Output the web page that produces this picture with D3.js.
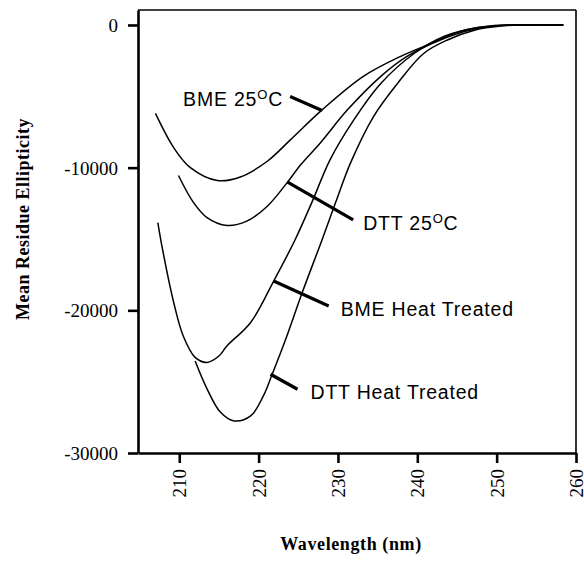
<!DOCTYPE html>
<html>
<head>
<meta charset="utf-8">
<script src="https://cdn.jsdelivr.net/npm/d3@7"></script>
<style>
  body { margin: 0; background: #fff; }
  svg { display: block; }
</style>
</head>
<body>
<div id="chart"></div>
<script>
const svgWidth = 584;
const svgHeight = 562;

const margin = { top: 10, right: 8, bottom: 109, left: 138 };

// wavelength (nm) / mean residue ellipticity
const bmeRtX = [207, 209.3, 211.4, 214.8, 217.7, 221.1, 224, 228, 233.2, 237.9, 241.7, 245.4, 249.2, 253, 258.4];
const bmeRtY = [-6200, -8600, -10000, -10900, -10650, -9550, -8050, -5950, -3600, -2200, -1300, -450, -70, 0, 0];

const dttRtX = [209.9, 211.8, 213.5, 216, 218.5, 221.1, 223.6, 225.3, 227.8, 231.2, 235.4, 238.7, 242.9, 246.7, 250.5, 253, 258.4];
const dttRtY = [-10550, -12450, -13500, -14050, -13750, -12700, -11050, -9800, -8250, -5950, -3600, -2200, -1050, -350, -40, 0, 0];

const bmeHeatX = [207.3, 207.9, 209.3, 210.5, 212, 213.5, 215, 216, 219, 221.9, 224.6, 226.7, 229, 232, 235.4, 239.6, 243.5, 247.3, 250.5, 253, 258.4];
const bmeHeatY = [-13850, -15750, -19450, -21800, -23300, -23650, -23200, -22500, -20850, -17950, -15050, -12450, -9450, -6650, -4100, -2000, -770, -210, -40, 0, 0];

const dttHeatX = [212, 213.5, 215.2, 216.9, 219, 220.6, 221.7, 223.4, 225.5, 228, 229.7, 231.6, 234.5, 237.5, 240.8, 243.8, 247.3, 250.5, 253, 258.4];
const dttHeatY = [-23550, -25500, -27150, -27750, -27400, -26000, -24500, -22050, -18750, -15050, -12450, -9650, -6400, -4100, -2000, -1050, -350, -70, 0, 0];

const xTicks = [210, 220, 230, 240, 250, 260];
const yTicks = [0, -10000, -20000, -30000];

// label text, point on the curve where the leader touches
const labelNames = ["BME 25", "DTT 25", "BME Heat Treated", "DTT Heat Treated"];
const labelAtX = [228, 223.6, 221.9, 221.5];
const labelAtY = [-6000, -11000, -17950, -24480];

const series = [
  { x: bmeRtX, y: bmeRtY },
  { x: dttRtX, y: dttRtY },
  { x: bmeHeatX, y: bmeHeatY },
  { x: dttHeatX, y: dttHeatY },
];

const width = svgWidth - margin.left - margin.right;
const height = svgHeight - margin.top - margin.bottom;

const svg = d3.select("#chart")
  .append("svg")
  .attr("width", svgWidth)
  .attr("height", svgHeight);

const g = svg.append("g")
  .attr("transform", `translate(${margin.left},${margin.top})`);

const x = d3.scaleLinear().domain([204.8, 260]).range([0, width]);
const y = d3.scaleLinear().domain([-30000, 1050]).range([height, 0]);

// frame: top and right are thinner
g.append("line").attr("x1", 0).attr("x2", width).attr("y1", 0).attr("y2", 0)
  .attr("stroke", "#000").attr("stroke-width", 1.6);
g.append("line").attr("x1", width).attr("x2", width).attr("y1", 0).attr("y2", height)
  .attr("stroke", "#000").attr("stroke-width", 1.6);

// plain hyphen for negatives, like the original
const fmt = (d) => String(d);

const xAxis = g.append("g")
  .attr("transform", `translate(0,${height})`)
  .call(d3.axisBottom(x).tickValues(xTicks).tickSize(10).tickSizeOuter(0).tickFormat(fmt));

xAxis.selectAll("text")
  .attr("transform", "rotate(-90)")
  .attr("x", -16)
  .attr("y", 0)
  .attr("dy", "0.35em")
  .attr("text-anchor", "end");

const yAxis = g.append("g")
  .call(d3.axisLeft(y).tickValues(yTicks).tickSize(10).tickSizeOuter(0).tickFormat(fmt));

yAxis.selectAll("text").attr("x", -20).attr("dy", "0.35em");

[xAxis, yAxis].forEach((a) => {
  a.select(".domain").attr("stroke-width", 2.6);
  a.selectAll(".tick line").attr("stroke-width", 2.6);
  a.selectAll("text")
    .style("font-family", "'Liberation Serif', 'Times New Roman', serif")
    .style("font-size", "19px")
    .attr("fill", "#000");
});

// curves
const line = d3.line()
  .x((d) => x(d[0]))
  .y((d) => y(d[1]))
  .curve(d3.curveCatmullRom.alpha(0.5));

series.forEach((s) => {
  g.append("path")
    .datum(s.x.map((v, i) => [v, s.y[i]]))
    .attr("d", line)
    .attr("fill", "none")
    .attr("stroke", "#000")
    .attr("stroke-width", 1.5);
});

// leaders and labels (offsets in px from the curve point)
const leaderOffsets = [[-32, -14], [66, 38], [55, 25], [27, 15]];
const textOffsets = [[-7, 9], [10, 10], [12, 10], [13, 10]];

labelNames.forEach((name, i) => {
  const px = x(labelAtX[i]);
  const py = y(labelAtY[i]);
  const ex = px + leaderOffsets[i][0];
  const ey = py + leaderOffsets[i][1];

  g.append("line")
    .attr("x1", px).attr("y1", py)
    .attr("x2", ex).attr("y2", ey)
    .attr("stroke", "#000")
    .attr("stroke-width", 3.2);

  const t = g.append("text")
    .attr("x", ex + textOffsets[i][0])
    .attr("y", ey + textOffsets[i][1])
    .attr("text-anchor", i === 0 ? "end" : "start")
    .style("font-family", "'Liberation Sans', Arial, sans-serif")
    .style("font-size", "19.5px")
    .style("letter-spacing", "0.8px");

  if (name.endsWith("25")) {
    t.append("tspan").text(name);
    t.append("tspan").attr("dy", -7).style("font-size", "13px").text("O");
    t.append("tspan").attr("dy", 7).text("C");
  } else {
    t.text(name);
  }
});

// axis titles
svg.append("text")
  .attr("x", margin.left + width / 2 - 6)
  .attr("y", 550)
  .attr("text-anchor", "middle")
  .style("font-family", "'Liberation Serif', 'Times New Roman', serif")
  .style("font-weight", "bold")
  .style("font-size", "18px")
  .style("letter-spacing", "0.6px")
  .text("Wavelength (nm)");

svg.append("text")
  .attr("transform", "translate(29,219) rotate(-90)")
  .attr("text-anchor", "middle")
  .style("font-family", "'Liberation Serif', 'Times New Roman', serif")
  .style("font-weight", "bold")
  .style("font-size", "18px")
  .style("letter-spacing", "0.5px")
  .text("Mean Residue Ellipticity");
</script>
</body>
</html>
